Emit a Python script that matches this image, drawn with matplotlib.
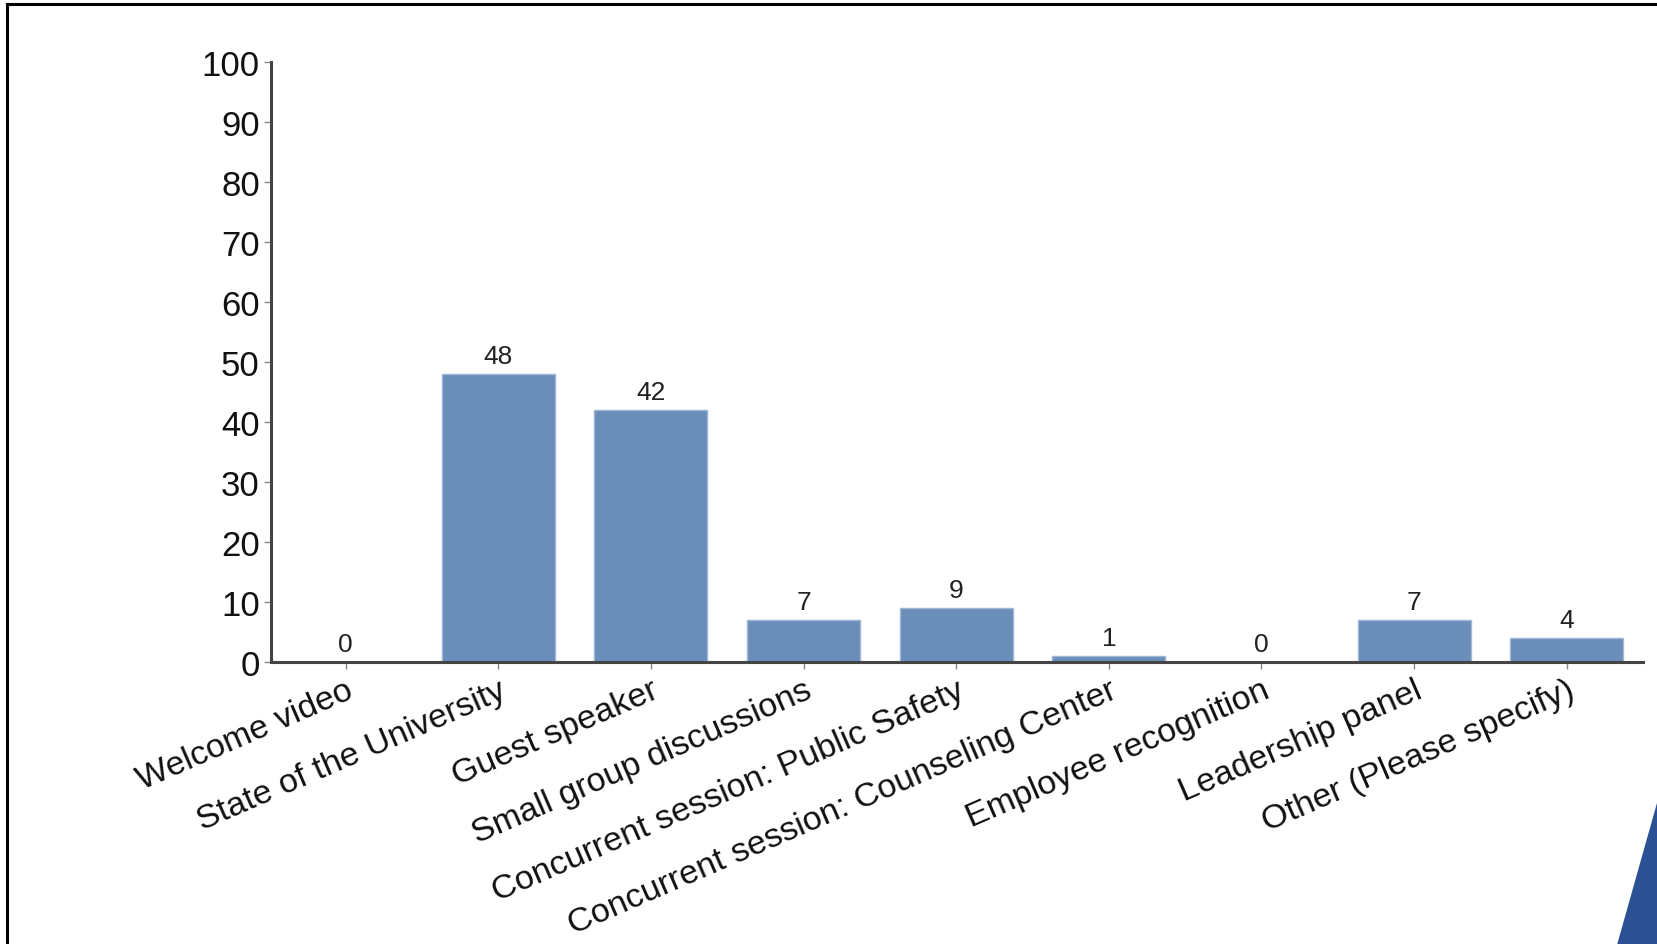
import matplotlib.pyplot as plt
from matplotlib.patches import Polygon
from matplotlib.lines import Line2D

categories = [
    "Welcome video",
    "State of the University",
    "Guest speaker",
    "Small group discussions",
    "Concurrent session: Public Safety",
    "Concurrent session: Counseling Center",
    "Employee recognition",
    "Leadership panel",
    "Other (Please specify)",
]
values = [0, 48, 42, 7, 9, 1, 0, 7, 4]
yticks = [0, 10, 20, 30, 40, 50, 60, 70, 80, 90, 100]

plt.rcParams['font.family'] = ['Liberation Sans', 'DejaVu Sans']

fig = plt.figure(figsize=(16.58, 9.45), dpi=100)
ax = fig.add_axes([0.1634, 0.2984, 0.8276, 0.6349])

x = list(range(len(categories)))
bars = ax.bar(x, values, width=0.74, color='#6a8dba', edgecolor='#9fb6d4', linewidth=1.0, zorder=2)
for xi, v in zip(x, values):
    ax.text(xi, v + 1.0, str(v), ha='center', va='bottom', fontsize=19, color='#222222')

ax.set_xlim(-0.49, 8.5)
ax.set_ylim(0, 100)
ax.set_yticks(yticks)
ax.set_xticks(x)
ax.set_xticklabels(categories, rotation=23.5, ha='right', rotation_mode='anchor', fontsize=24.5, color='#111111')
ax.tick_params(axis='y', labelsize=25, length=5, width=1, color='#888888', pad=3, labelcolor='#111111')
ax.tick_params(axis='x', length=5, width=1, color='#888888', pad=4)

for s in ['top', 'right']:
    ax.spines[s].set_visible(False)
for s in ['left', 'bottom']:
    ax.spines[s].set_color('#444444')
    ax.spines[s].set_linewidth(2.2)

# slide frame and corner decoration
fig.add_artist(Line2D([0.0045, 0.0045], [0, 0.995], transform=fig.transFigure, color='black', lw=2.2))
fig.add_artist(Line2D([0.0045, 1.0], [0.995, 0.995], transform=fig.transFigure, color='black', lw=2.2))
fig.add_artist(Polygon([[1618 / 1658, 0], [1.0, 1 - 803 / 945], [1.0, 0]], closed=True,
                       transform=fig.transFigure, color='#2b5194'))

fig.savefig('out.png', dpi=100)
